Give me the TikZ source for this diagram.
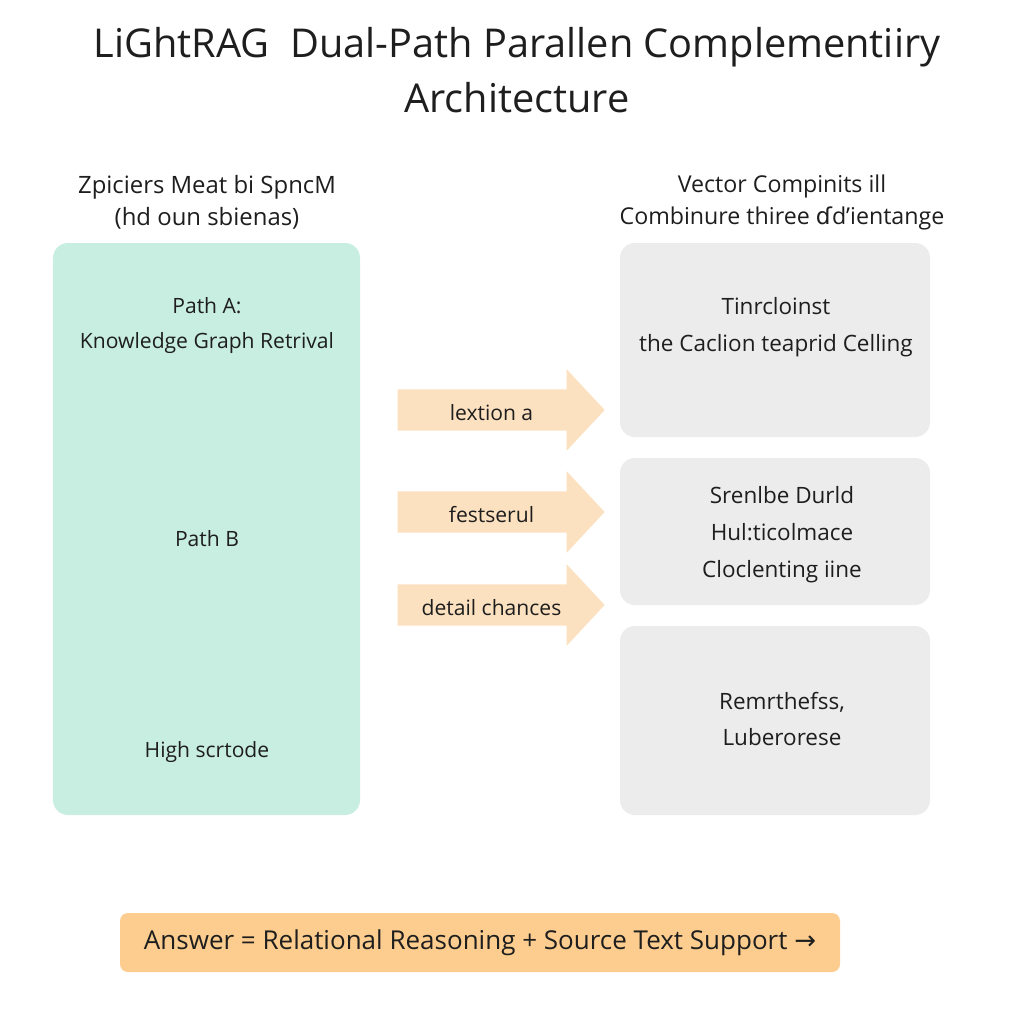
\documentclass[tikz,border=0pt]{standalone}
\usepackage{fontspec}
\setmainfont{Open Sans}
\newfontfamily\symfont{DejaVu Sans}
\usetikzlibrary{shapes.arrows}
\definecolor{inkgray}{RGB}{30, 30, 30}
\definecolor{pathmint}{RGB}{200, 238, 226}
\definecolor{boxgray}{RGB}{236, 236, 236}
\definecolor{arrowpeach}{RGB}{252, 225, 192}
\definecolor{answerorange}{RGB}{252, 205, 142}

\begin{document}
\begin{tikzpicture}[
    every node/.style={text=inkgray},
    bodytext/.style={font=\fontsize{6.0}{10.5}\selectfont, align=center},
    righttext/.style={font=\fontsize{6.4}{10.5}\selectfont, align=center},
    panel/.style={rounded corners=0.15cm, inner sep=0pt},
    flowarrow/.style={single arrow, fill=arrowpeach, inner sep=0pt, text height=0.26cm, text depth=0.06cm,
        inner ysep=0.04cm, minimum height=2.07cm, single arrow head extend=0.2cm, single arrow tip angle=94,
        font=\fontsize{6.0}{7}\selectfont}
]
    \useasboundingbox[fill=white] (0,0) rectangle (10.24,-10.24);

    % Title
    \node[align=center, font=\fontsize{11.3}{15.6}\selectfont] (title) at (5.17,-0.70)
        {LiGhtRAG\ \ Dual-Path Parallen Complementiiry\\Architecture};

    % Column headings
    \node[align=center, font=\fontsize{6.8}{9.1}\selectfont] (headA) at (2.07,-2.02) {Zpiciers Meat bi SpncM\\(hd oun sbienas)};
    \node[align=center, font=\fontsize{6.6}{9.1}\selectfont] (headB) at (7.82,-2.02) {Vector Compinits ill\\Combinure thiree {\symfont ɗ}d'ientange};

    % Path A / Path B (left)
    \node[panel, fill=pathmint, minimum width=3.07cm, minimum height=5.72cm] (paths) at (2.065,-5.29) {};
    \node[bodytext, font=\fontsize{6.0}{9.7}\selectfont] (pathA) at (2.07,-3.255) {Path A:\\Knowledge Graph Retrival};
    \node[bodytext] (pathB) at (2.07,-5.39) {Path B};
    \node[bodytext] (high) at (2.07,-7.52) {High scrtode};

    % Right blocks
    \node[panel, fill=boxgray, minimum width=3.10cm, minimum height=1.94cm] (blockA) at (7.75,-3.40) {};
    \node[panel, fill=boxgray, minimum width=3.10cm, minimum height=1.47cm] (blockB) at (7.75,-5.315) {};
    \node[panel, fill=boxgray, minimum width=3.10cm, minimum height=1.89cm] (blockC) at (7.75,-7.205) {};
    \node[righttext] (textA) at (7.76,-3.27) {Tinrcloinst\\the Caclion teaprid Celling};
    \node[righttext] (textB) at (7.82,-5.345) {Srenlbe Durld\\Hul:ticolmace\\Cloclenting iine};
    \node[righttext] (textC) at (7.82,-7.19) {Remrthefss,\\Luberorese};

    % Arrows between the columns
    \node[flowarrow] (arrA) at (4.915,-4.10) {lextion a};
    \node[flowarrow] (arrB) at (4.915,-5.12) {festserul};
    \node[flowarrow] (arrC) at (4.915,-6.05) {detail chances};

    % Answer
    \node[panel, rounded corners=0.08cm, fill=answerorange, minimum width=7.20cm, minimum height=0.59cm,
        font=\fontsize{7.4}{8}\selectfont] (answer) at (4.80,-9.425)
        {Answer = Relational Reasoning + Source Text Support {\symfont →}};
\end{tikzpicture}
\end{document}
